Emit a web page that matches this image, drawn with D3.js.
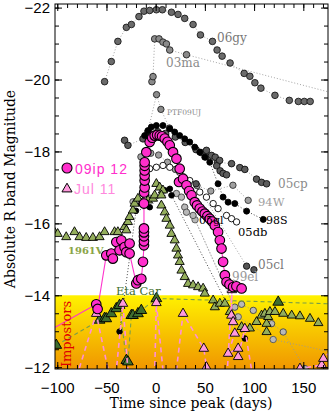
<!DOCTYPE html>
<html>
<head>
<meta charset="utf-8">
<script src="https://cdn.jsdelivr.net/npm/d3@7"></script>
<style>
  body { margin: 0; background: #fff; }
  text { font-family: "DejaVu Serif", serif; }
</style>
</head>
<body>
<div id="chart"></div>
<script>
// courbes de lumière : [jour depuis le pic, magnitude absolue R]

var sn06gy = [[-51.9,-19.94],[-45.1,-20.5],[-38.4,-21.06],[-29.8,-21.45],[-24.7,-21.53],[-17,-21.75],[-11.9,-21.9],[-6.1,-21.92],[0.7,-21.94],[6.8,-21.94],[16,-21.87],[22.7,-21.81],[29.5,-21.7],[38,-21.53],[45.5,-21.24],[57.7,-21.06],[62.4,-20.82],[67.5,-20.65],[75.6,-20.46],[89.9,-20.17],[95.7,-20.09],[100.8,-19.91],[106.9,-19.76],[121.2,-19.56],[135.8,-19.42],[145,-19.39],[151,-19.39],[157,-19.39]];
var sn03ma = [[-3.8,-19.94],[-2.7,-20.08],[-1,-21.13],[3.4,-21.13],[7.4,-21.04],[10.9,-20.99],[14.3,-20.82],[31.3,-20.69],[200,-19.48]];
var snPTF09UJ = [[-8,-18.55],[0.9,-19.58],[5.3,-19.17],[14,-18.65]];
var sn05cp = [[-31.6,-18.31],[-28.2,-18.17],[-12.9,-18.35],[-6,-18.5],[2,-18.55],[10,-18.5],[20,-18.4],[30,-18.25],[41,-18.05],[46,-17.97],[51,-17.85],[63,-17.7],[77.1,-17.66],[85.5,-17.55],[90.6,-17.5],[102.5,-17.23],[107.6,-17.14],[112.7,-17.1]];
var snStreak = [[51.6,-18.03],[56.7,-17.89],[60.5,-17.84],[65,-17.75],[62,-17.6],[65.5,-17.46],[68.5,-17.39],[72,-17.35]];
var sn94W = [[-15,-17.85],[-5,-17.95],[3,-17.9],[12,-17.7],[20,-17.5],[28,-17.3],[42,-17.05],[56,-16.9],[78.5,-17.06],[94,-16.64]];
var sn05cl = [[30,-17.2],[41,-17.1],[92.4,-14.81],[99.8,-14.71]];
var sn99el = [[-23,-16.6],[-15,-16.6],[-6,-16.7],[21.1,-16.83],[26.2,-16.73],[29.5,-16.45],[31.3,-16.31],[38,-16.22],[80.4,-13.67],[87.3,-13.75],[99.2,-13.58],[117.8,-13.21],[129.6,-12.98],[151.7,-11.96]];
var snFaint = [[40,-16.1],[83.9,-13.4],[119.4,-12.77],[200,-12.3]];
var sn98S = [[-11.2,-18.44],[-7.8,-18.58],[-4.4,-18.68],[0.7,-18.72],[7.4,-18.72],[14.3,-18.63],[19.3,-18.54],[24.4,-18.44],[29.5,-18.35],[34.6,-18.26],[39.7,-18.12],[44.8,-17.98],[49.9,-17.84],[55,-17.7],[63.4,-17.1],[68.5,-16.73],[73.6,-16.59],[80.4,-16.55],[92.4,-16.34],[109.3,-16.11]];
var snBlack2 = [[-36.7,-12.99],[-20,-16.35],[-6,-16.45],[9.4,-16.92],[14.4,-16.96],[16.1,-16.78],[90.6,-12.8]];
var sn05db = [[-19.7,-16.59],[-14.6,-16.59],[-6.1,-17.52],[0.7,-17.56],[7.4,-17.61],[14.3,-17.56],[24.4,-17.42],[34.6,-17.19],[44.8,-16.87],[51.6,-16.73],[58.4,-16.55],[63.4,-16.41],[72,-16.22],[77.1,-16.13],[82.2,-16.04]];

var sn1961V = [[-110,-15.7],[-102.9,-15.76],[-99.6,-15.71],[-90.9,-15.62],[-82.5,-15.76],[-77.4,-15.62],[-70.6,-15.6],[-63.8,-15.6],[-57,-15.62],[-51.9,-15.76],[-41.8,-15.76],[-38.4,-15.76],[-31.6,-15.9],[-29.8,-15.81],[-28.2,-16.04],[-26.5,-16.18],[-23.1,-16.36],[-21.4,-16.55],[-18,-16.69],[-12.9,-16.59],[-7.8,-16.64],[-2.7,-16.69],[-1,-16.78],[0.7,-17.1],[4.1,-17.0],[7.4,-16.92],[5.8,-16.78],[5.8,-16.5],[9.2,-16.31],[10.9,-16.13],[14.3,-15.94],[16,-15.71],[19.3,-15.53],[21.1,-15.3],[22.7,-15.11],[24.4,-14.93],[26.2,-14.69],[29.5,-14.51],[32.9,-14.32],[38,-14.28],[43.1,-14.23],[48.2,-14.19],[49.9,-14.05],[58.4,-13.86],[60.1,-13.67],[65.2,-13.77],[70.3,-13.77],[75.4,-13.54],[87.3,-13.12],[95.7,-13.08],[102.5,-13.26],[107.6,-13.44],[111,-13.49],[112.7,-13.21],[112.7,-12.98],[114.3,-13.4],[116.1,-13.54],[121.2,-13.54],[129.6,-13.49],[138.2,-13.44],[146.6,-13.42],[156.8,-13.35],[165.3,-13.23]];
var etaCar = [[-101,-12.61],[-57,-13.31],[-51.9,-13.36],[-50.2,-13.35],[-45.1,-13.49],[-40,-13.63],[-36.7,-13.72],[-29.8,-12.19],[-28.2,-12.15],[-24.7,-13.44],[-23.1,-13.44],[-18,-13.49],[-14.6,-13.58],[0.7,-13.91],[124.5,-13.81],[190,-13.75]];

// 2009ip : éruption de juillet 2011 et explosion de 2012
var ip2011 = [[-83,-11.5],[-60.4,-13.49],[-45,-11.5],[-41.5,-11.5],[-33.3,-13.77],[-27.1,-11.5],[-1.3,-11.5],[0.7,-13.79],[8.9,-11.5],[19.3,-11.5],[27.8,-13.49],[48.9,-12.52],[51.6,-12.0],[55,-11.5],[72,-11.5],[77.5,-14.15],[77,-13.44],[78.7,-13.26],[80.4,-12.94],[73.6,-12.38],[83.8,-12.52],[83.8,-12.29],[90.6,-13.07],[100,-11.5],[146,-11.5],[146.6,-11.96],[168.7,-12.06],[170.4,-12.24],[180,-12.5]];
var ip2012 = [[-130,-12.68],[-60.4,-13.75],[-59,-13.62],[-50.2,-15.11],[-45.1,-15.16],[-43.5,-15.02],[-40,-15.48],[-36.7,-15.25],[-34.9,-15.53],[-31.6,-15.34],[-29.8,-15.2],[-26.5,-15.44],[-26.5,-15.16],[-19.7,-14.33],[-18,-14.42],[-14.6,-14.46],[-12.9,-14.93],[-11.9,-15.39],[-11.9,-15.5],[-11.9,-15.64],[-11.9,-15.75],[-11.9,-15.86],[-11.9,-16.55],[-11.7,-16.86],[-11.2,-17.0],[-11.2,-17.19],[-11.2,-17.33],[-11.2,-17.47],[-11.2,-17.6],[-11.2,-17.7],[-9.5,-17.98],[-6.1,-18.26],[-3.5,-18.38],[-1,-18.44],[1.5,-18.46],[4.1,-18.44],[6.5,-18.42],[9.2,-18.36],[12,-18.27],[14.3,-18.17],[17.6,-17.98],[21.1,-17.8],[24.4,-17.52],[23.7,-17.15],[27.8,-17.24],[31.3,-17.06],[34,-16.9],[36.4,-16.78],[39.7,-16.59],[42,-16.5],[44.8,-16.41],[47.5,-16.33],[49.9,-16.27],[52.5,-16.2],[55,-16.13],[57.5,-16.05],[60.1,-15.94],[63.4,-15.76],[65.2,-15.53],[66.9,-15.3],[68.5,-14.93],[70.3,-14.56],[72,-14.37],[75,-14.3],[78.7,-14.23],[82,-14.25],[87.3,-14.19]];

var xTicks = [-100, -50, 0, 50, 100, 150];
var yTicks = [-22, -20, -18, -16, -14, -12];
var impostorLimit = -14;

var width = 331, height = 413;
var x = d3.scaleLinear([-102.3, 175.1], [55, 328]);
var y = d3.scaleLinear([-22.1, -11.95], [4, 369]);

var svg = d3.select("#chart").append("svg")
    .attr("width", width)
    .attr("height", height);

var defs = svg.append("defs");
defs.append("clipPath").attr("id", "plot")
  .append("rect").attr("x", 55).attr("y", 4).attr("width", 273).attr("height", 365);
var grad = defs.append("linearGradient").attr("id", "impostor")
    .attr("x1", 0).attr("y1", 0).attr("x2", 0).attr("y2", 1);
grad.append("stop").attr("offset", "0%").attr("stop-color", "#fff200");
grad.append("stop").attr("offset", "100%").attr("stop-color", "#f09600");

var g = svg.append("g").attr("clip-path", "url(#plot)");

// zone des imposteurs
g.append("rect")
    .attr("x", x.range()[0]).attr("width", x.range()[1] - x.range()[0])
    .attr("y", y(impostorLimit)).attr("height", y.range()[1] - y(impostorLimit))
    .attr("fill", "url(#impostor)");

var line = d3.line().x(d => x(d[0])).y(d => y(d[1]));

var greySN = [
  {data: snFaint, fill: "#b8b8b8", stroke: "#555", r: 3.2},
  {data: sn99el, fill: "#b8b8b8", stroke: "#444", r: 3.2},
  {data: sn94W, fill: "#a0a0a0", stroke: "#333", r: 3.2},
  {data: sn03ma, fill: "#8a8a8a", stroke: "#222", r: 3.3},
  {data: snPTF09UJ, fill: "#8a8a8a", stroke: "#222", r: 3.2},
  {data: sn06gy, fill: "#6b6b6b", stroke: "#1a1a1a", r: 3.3},
  {data: sn05cl, fill: "#555", stroke: "#111", r: 3.2},
  {data: sn05db, fill: "#fff", stroke: "#000", r: 3.2},
  {data: sn05cp, fill: "#5c5c5c", stroke: "#111", r: 3.3},
  {data: snStreak, fill: "#5c5c5c", stroke: "#111", r: 3.3},
  {data: snBlack2, fill: "#000", stroke: "#000", r: 2.8},
  {data: sn98S, fill: "#000", stroke: "#000", r: 3}
];

greySN.forEach(function(s) {
  g.append("path").datum(s.data)
      .attr("d", line)
      .attr("fill", "none")
      .attr("stroke", s.fill == "#000" ? "#333" : "#999")
      .attr("stroke-width", 0.9)
      .attr("stroke-dasharray", "1,2");
});
greySN.forEach(function(s) {
  g.append("g").selectAll("circle").data(s.data).enter().append("circle")
      .attr("cx", d => x(d[0])).attr("cy", d => y(d[1]))
      .attr("r", s.r)
      .attr("fill", s.fill).attr("stroke", s.stroke).attr("stroke-width", 0.9);
});

// étiquettes des supernovae
var labels = [
  {t: "06gy", x: 217, y: 42, c: "#777", s: 12},
  {t: "03ma", x: 166, y: 67, c: "#8a8a8a", s: 12},
  {t: "PTF09UJ", x: 167, y: 115, c: "#8a8a8a", s: 7.5},
  {t: "05cp", x: 278, y: 188, c: "#8a8a8a", s: 12},
  {t: "94W", x: 258, y: 206, c: "#a0a0a0", s: 11.5},
  {t: "98S", x: 266, y: 224, c: "#000", s: 11},
  {t: "05gl", x: 199, y: 224, c: "#000", s: 11},
  {t: "05db", x: 238, y: 236, c: "#000", s: 11.5},
  {t: "05cl", x: 258, y: 269, c: "#777", s: 12},
  {t: "99el", x: 232, y: 281, c: "#999", s: 12}
];
svg.append("g").selectAll("text").data(labels).enter().append("text")
    .attr("x", d => d.x).attr("y", d => d.y)
    .attr("fill", d => d.c).style("font-size", d => d.s + "px")
    .text(d => d.t);

var tri = function(size) { return d3.symbol(d3.symbolTriangle, size)(); };

// 1961V
g.append("g").selectAll("path").data(sn1961V).enter().append("path")
    .attr("d", tri(36))
    .attr("transform", d => "translate(" + x(d[0]) + "," + y(d[1]) + ")")
    .attr("fill", "#94ae5c").attr("stroke", "#000").attr("stroke-width", 0.9);

// Eta Car
g.append("path").datum(etaCar)
    .attr("d", line).attr("fill", "none")
    .attr("stroke", "#7a9e48").attr("stroke-width", 1.1).attr("stroke-dasharray", "4,3");
g.append("g").selectAll("path").data(etaCar).enter().append("path")
    .attr("d", tri(50))
    .attr("transform", d => "translate(" + x(d[0]) + "," + y(d[1]) + ")")
    .attr("fill", "#3f6e2e").attr("stroke", "#000").attr("stroke-width", 0.9);

// 2009ip en 2011
g.append("path").datum(ip2011)
    .attr("d", line).attr("fill", "none")
    .attr("stroke", "#ff8fd6").attr("stroke-width", 1.6).attr("stroke-dasharray", "5,4");
g.append("g").selectAll("path").data(ip2011).enter().append("path")
    .attr("d", tri(40))
    .attr("transform", d => "translate(" + x(d[0]) + "," + y(d[1]) + ")")
    .attr("fill", "#ff99dd").attr("stroke", "#000").attr("stroke-width", 0.9);

// 2009ip en 2012
g.append("path").datum(ip2012)
    .attr("d", line).attr("fill", "none")
    .attr("stroke", "#ff33cc").attr("stroke-width", 1.1);
g.append("g").selectAll("circle").data(ip2012).enter().append("circle")
    .attr("cx", d => x(d[0])).attr("cy", d => y(d[1]))
    .attr("r", 4.8)
    .attr("fill", "#ff2ecc").attr("stroke", "#000").attr("stroke-width", 1.1);

// textes
svg.append("text").attr("x", 68).attr("y", 254)
    .attr("fill", "#8aa448").style("font-size", "10px").style("font-weight", "bold")
    .text("1961V");
svg.append("text").attr("x", 116).attr("y", 295)
    .attr("fill", "#3f6e2e").style("font-size", "11.5px")
    .text("Eta Car");
svg.append("text")
    .attr("transform", "translate(71,334) rotate(-90)")
    .attr("text-anchor", "middle")
    .attr("fill", "#e00000").style("font-size", "13px")
    .text("Impostors");

// légende
svg.append("circle").attr("cx", 67).attr("cy", 168).attr("r", 5)
    .attr("fill", "#ff2ecc").attr("stroke", "#000").attr("stroke-width", 1.1);
svg.append("text").attr("x", 75).attr("y", 173.5)
    .style("font-family", "Liberation Sans, sans-serif").style("font-size", "14px")
    .style("letter-spacing", "1px").attr("fill", "#ff2ecc")
    .text("09ip 12");
svg.append("path").attr("d", tri(44))
    .attr("transform", "translate(67,189)")
    .attr("fill", "#ff99dd").attr("stroke", "#000").attr("stroke-width", 1);
svg.append("text").attr("x", 74).attr("y", 193.5)
    .style("font-family", "Liberation Sans, sans-serif").style("font-size", "14px")
    .style("letter-spacing", "1px").attr("fill", "#ff88dd")
    .text("Jul 11");

// axes
function ax(axis, tr, major, minor, labels) {
  var a = svg.append("g").attr("transform", tr);
  a.call(axis.tickValues(minor).tickSize(-4).tickFormat(""));
  var b = svg.append("g").attr("transform", tr);
  b.call(axis.tickValues(major).tickSize(-7).tickFormat(labels ? d3.format("") : ""));
  [a, b].forEach(function(s) {
    s.select(".domain").remove();
    s.selectAll("line").attr("stroke", "#000");
    s.selectAll("text").attr("fill", "#000")
      .style("font-family", "Liberation Sans, sans-serif").style("font-size", "15px");
  });
  return b;
}
var xMinor = d3.range(-100, 176, 10);
var yMinor = d3.range(-22, -11.9, 0.5);
var bx = ax(d3.axisBottom(x), "translate(0,369)", xTicks, xMinor, true);
bx.selectAll("text").attr("dy", "1.4em");
ax(d3.axisTop(x), "translate(0,4)", xTicks, xMinor, false);
var ly = ax(d3.axisLeft(y), "translate(55,0)", yTicks, yMinor, true);
ly.selectAll("text").attr("x", -5);
ax(d3.axisRight(y), "translate(328,0)", yTicks, yMinor, false);

svg.append("rect").attr("x", 55).attr("y", 4).attr("width", 273).attr("height", 365)
    .attr("fill", "none").attr("stroke", "#000").attr("stroke-width", 1);

svg.append("text").attr("x", 191).attr("y", 408).attr("text-anchor", "middle")
    .style("font-size", "14px").text("Time since peak (days)");
svg.append("text").attr("transform", "translate(15,189) rotate(-90)")
    .attr("text-anchor", "middle")
    .style("font-size", "14px").text("Absolute R band Magnitude");
</script>
</body>
</html>
